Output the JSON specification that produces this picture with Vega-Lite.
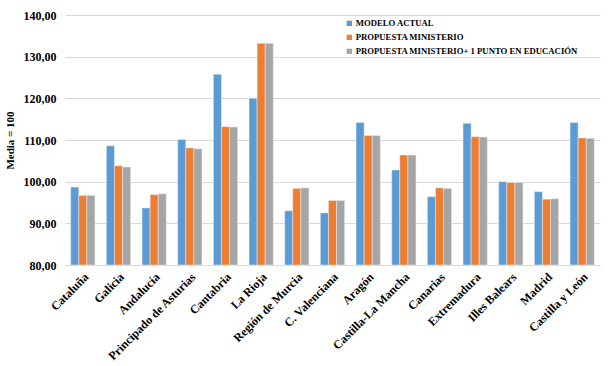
{
  "$schema": "https://vega.github.io/schema/vega-lite/v6.json",
  "width": 535,
  "height": 250,
  "autosize": {"type": "none"},
  "padding": {"left": 65, "top": 15, "right": 8, "bottom": 101},
  "background": "white",
  "config": {
    "font": "Liberation Serif",
    "view": {"stroke": null}
  },
  "data": {
    "values": [
      {"region": "Cataluña", "serie": "MODELO ACTUAL", "valor": 98.7},
      {"region": "Cataluña", "serie": "PROPUESTA MINISTERIO", "valor": 96.7},
      {"region": "Cataluña", "serie": "PROPUESTA MINISTERIO+ 1 PUNTO EN EDUCACIÓN", "valor": 96.7},
      {"region": "Galicia", "serie": "MODELO ACTUAL", "valor": 108.6},
      {"region": "Galicia", "serie": "PROPUESTA MINISTERIO", "valor": 103.8},
      {"region": "Galicia", "serie": "PROPUESTA MINISTERIO+ 1 PUNTO EN EDUCACIÓN", "valor": 103.5},
      {"region": "Andalucía", "serie": "MODELO ACTUAL", "valor": 93.7},
      {"region": "Andalucía", "serie": "PROPUESTA MINISTERIO", "valor": 96.9},
      {"region": "Andalucía", "serie": "PROPUESTA MINISTERIO+ 1 PUNTO EN EDUCACIÓN", "valor": 97.1},
      {"region": "Principado de Asturias", "serie": "MODELO ACTUAL", "valor": 110.1},
      {"region": "Principado de Asturias", "serie": "PROPUESTA MINISTERIO", "valor": 108.1},
      {"region": "Principado de Asturias", "serie": "PROPUESTA MINISTERIO+ 1 PUNTO EN EDUCACIÓN", "valor": 107.9},
      {"region": "Cantabria", "serie": "MODELO ACTUAL", "valor": 125.8},
      {"region": "Cantabria", "serie": "PROPUESTA MINISTERIO", "valor": 113.2},
      {"region": "Cantabria", "serie": "PROPUESTA MINISTERIO+ 1 PUNTO EN EDUCACIÓN", "valor": 113.1},
      {"region": "La Rioja", "serie": "MODELO ACTUAL", "valor": 120.0},
      {"region": "La Rioja", "serie": "PROPUESTA MINISTERIO", "valor": 133.2},
      {"region": "La Rioja", "serie": "PROPUESTA MINISTERIO+ 1 PUNTO EN EDUCACIÓN", "valor": 133.2},
      {"region": "Región de Murcia", "serie": "MODELO ACTUAL", "valor": 93.0},
      {"region": "Región de Murcia", "serie": "PROPUESTA MINISTERIO", "valor": 98.4},
      {"region": "Región de Murcia", "serie": "PROPUESTA MINISTERIO+ 1 PUNTO EN EDUCACIÓN", "valor": 98.5},
      {"region": "C. Valenciana", "serie": "MODELO ACTUAL", "valor": 92.5},
      {"region": "C. Valenciana", "serie": "PROPUESTA MINISTERIO", "valor": 95.5},
      {"region": "C. Valenciana", "serie": "PROPUESTA MINISTERIO+ 1 PUNTO EN EDUCACIÓN", "valor": 95.5},
      {"region": "Aragón", "serie": "MODELO ACTUAL", "valor": 114.2},
      {"region": "Aragón", "serie": "PROPUESTA MINISTERIO", "valor": 111.1},
      {"region": "Aragón", "serie": "PROPUESTA MINISTERIO+ 1 PUNTO EN EDUCACIÓN", "valor": 111.1},
      {"region": "Castilla-La Mancha", "serie": "MODELO ACTUAL", "valor": 102.8},
      {"region": "Castilla-La Mancha", "serie": "PROPUESTA MINISTERIO", "valor": 106.4},
      {"region": "Castilla-La Mancha", "serie": "PROPUESTA MINISTERIO+ 1 PUNTO EN EDUCACIÓN", "valor": 106.4},
      {"region": "Canarias", "serie": "MODELO ACTUAL", "valor": 96.4},
      {"region": "Canarias", "serie": "PROPUESTA MINISTERIO", "valor": 98.5},
      {"region": "Canarias", "serie": "PROPUESTA MINISTERIO+ 1 PUNTO EN EDUCACIÓN", "valor": 98.4},
      {"region": "Extremadura", "serie": "MODELO ACTUAL", "valor": 114.0},
      {"region": "Extremadura", "serie": "PROPUESTA MINISTERIO", "valor": 110.8},
      {"region": "Extremadura", "serie": "PROPUESTA MINISTERIO+ 1 PUNTO EN EDUCACIÓN", "valor": 110.7},
      {"region": "Illes Balears", "serie": "MODELO ACTUAL", "valor": 100.0},
      {"region": "Illes Balears", "serie": "PROPUESTA MINISTERIO", "valor": 99.8},
      {"region": "Illes Balears", "serie": "PROPUESTA MINISTERIO+ 1 PUNTO EN EDUCACIÓN", "valor": 99.8},
      {"region": "Madrid", "serie": "MODELO ACTUAL", "valor": 97.6},
      {"region": "Madrid", "serie": "PROPUESTA MINISTERIO", "valor": 95.8},
      {"region": "Madrid", "serie": "PROPUESTA MINISTERIO+ 1 PUNTO EN EDUCACIÓN", "valor": 95.9},
      {"region": "Castilla y León", "serie": "MODELO ACTUAL", "valor": 114.2},
      {"region": "Castilla y León", "serie": "PROPUESTA MINISTERIO", "valor": 110.5},
      {"region": "Castilla y León", "serie": "PROPUESTA MINISTERIO+ 1 PUNTO EN EDUCACIÓN", "valor": 110.4}
    ]
  },
  "mark": {"type": "bar", "stroke": "#E8EEF6", "strokeWidth": 0.5},
  "encoding": {
    "x": {
      "field": "region",
      "type": "nominal",
      "sort": null,
      "scale": {"paddingInner": 0.32, "paddingOuter": 0.16},
      "axis": {
        "title": null,
        "labelAngle": -45,
        "labelFont": "Liberation Serif",
        "labelFontSize": 12,
        "labelFontWeight": "bold",
        "labelColor": "#000000",
        "labelPadding": 6,
        "ticks": false,
        "domain": true,
        "domainColor": "#D9D9D9",
        "grid": false
      }
    },
    "xOffset": {
      "field": "serie",
      "type": "nominal",
      "sort": ["MODELO ACTUAL", "PROPUESTA MINISTERIO", "PROPUESTA MINISTERIO+ 1 PUNTO EN EDUCACIÓN"],
      "scale": {"paddingInner": 0, "paddingOuter": 0}
    },
    "y": {
      "field": "valor",
      "type": "quantitative",
      "scale": {"domain": [80, 140], "zero": false, "nice": false},
      "axis": {
        "title": "Media = 100",
        "titleFont": "Liberation Serif",
        "titleFontSize": 11,
        "titleFontWeight": "bold",
        "titleColor": "#000000",
        "titlePadding": 8,
        "values": [80, 90, 100, 110, 120, 130, 140],
        "labelExpr": "replace(format(datum.value, '.2f'), '.', ',')",
        "labelFont": "Liberation Serif",
        "labelFontSize": 12,
        "labelFontWeight": "bold",
        "labelColor": "#000000",
        "labelPadding": 9,
        "ticks": false,
        "domain": false,
        "grid": true,
        "gridColor": "#D9D9D9"
      }
    },
    "y2": {"datum": 80},
    "color": {
      "field": "serie",
      "type": "nominal",
      "sort": ["MODELO ACTUAL", "PROPUESTA MINISTERIO", "PROPUESTA MINISTERIO+ 1 PUNTO EN EDUCACIÓN"],
      "scale": {
        "domain": ["MODELO ACTUAL", "PROPUESTA MINISTERIO", "PROPUESTA MINISTERIO+ 1 PUNTO EN EDUCACIÓN"],
        "range": ["#5B9BD5", "#ED7D31", "#A5A5A5"]
      },
      "legend": {
        "title": null,
        "orient": "none",
        "legendX": 280,
        "legendY": 4,
        "symbolType": "square",
        "symbolSize": 28,
        "symbolStrokeWidth": 0,
        "labelFont": "Liberation Serif",
        "labelFontSize": 8.7,
        "labelFontWeight": "bold",
        "labelColor": "#000000",
        "labelOffset": 2,
        "labelLimit": 400,
        "rowPadding": 4
      }
    }
  }
}
